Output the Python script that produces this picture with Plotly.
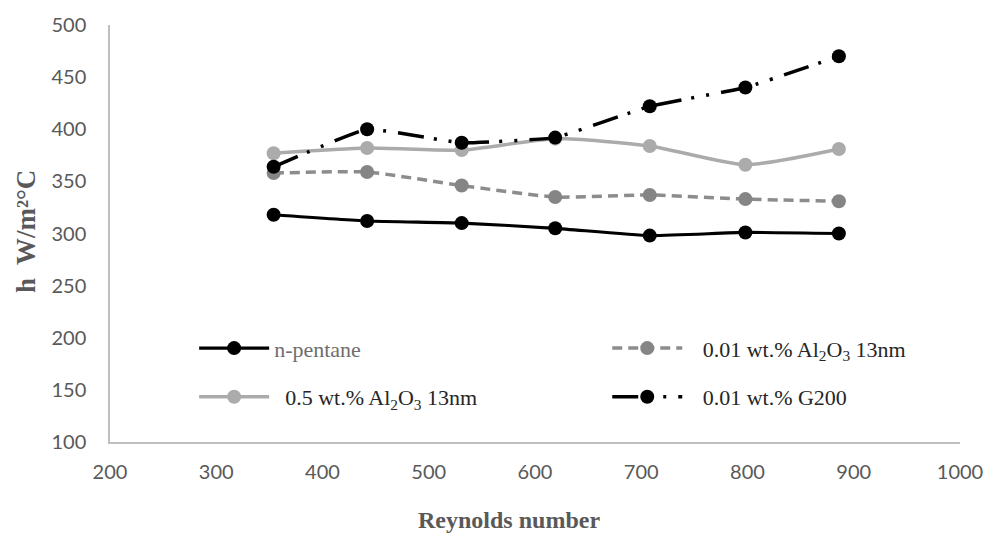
import plotly.graph_objects as go

reynolds = [354, 442, 531, 619, 708, 798, 886]
n_pentane = [318, 312, 310, 305, 298, 301, 300]
al2o3_001 = [358, 359, 346, 335, 337, 333, 331]
al2o3_05 = [377, 382, 380, 391, 384, 366, 381]
g200_001 = [364, 400, 387, 392, 422, 440, 470]

names = ["<span style='color:#6e6e6e'>n-pentane</span>",
         "\u00a0\u00a0\u20090.01 wt.% Al<sub>2</sub>O<sub>3</sub> 13nm",
         "\u00a0\u00a00.5 wt.% Al<sub>2</sub>O<sub>3</sub> 13nm",
         "\u00a0\u00a0\u20090.01 wt.% G200"]

x_ticks = [200, 300, 400, 500, 600, 700, 800, 900, 1000]
y_ticks = [100, 150, 200, 250, 300, 350, 400, 450, 500]

fig = go.Figure()

fig.add_trace(go.Scatter(
    x=reynolds, y=n_pentane, name=names[0], mode="lines+markers",
    line=dict(color="#000000", width=3.2, shape="spline", smoothing=0.5),
    marker=dict(color="#000000", size=14), legend="legend", legendgroup="a"))
fig.add_trace(go.Scatter(
    x=reynolds, y=al2o3_001, name=names[1], mode="lines+markers",
    line=dict(color="#8c8c8c", width=3.5, dash="10px,6px", shape="spline", smoothing=0.5),
    marker=dict(color="#858585", size=14), legend="legend2", legendgroup="b"))
fig.add_trace(go.Scatter(
    x=reynolds, y=al2o3_05, name=names[2], mode="lines+markers",
    line=dict(color="#ababab", width=3.5, shape="spline", smoothing=0.6),
    marker=dict(color="#ababab", size=14), legend="legend", legendgroup="c"))
fig.add_trace(go.Scatter(
    x=reynolds, y=g200_001, name=names[3], mode="lines+markers",
    line=dict(color="#000000", width=3.5, dash="26px,10px,3px,12px,3px,12px", shape="spline", smoothing=0.3),
    marker=dict(color="#000000", size=14), legend="legend2", legendgroup="d"))

legend_common = dict(
    font=dict(family="Liberation Serif, DejaVu Serif, serif", size=22, color="#262626"),
    bgcolor="rgba(0,0,0,0)", itemwidth=70, tracegroupgap=17,
    orientation="v", xanchor="left", yanchor="middle", traceorder="grouped",
)

tick_font = dict(family="Lato, Open Sans, sans-serif", size=20, color="#595959")
title_font = "Liberation Serif, DejaVu Serif, serif"

fig.update_layout(
    width=995, height=536,
    margin=dict(l=110, r=35, t=22, b=94),
    paper_bgcolor="white", plot_bgcolor="white",
    showlegend=True,
    legend=dict(x=0.099, y=0.166, **legend_common),
    legend2=dict(x=0.585, y=0.166, **legend_common),
    xaxis=dict(
        range=[200, 1000], tickvals=x_ticks, ticktext=[str(v) for v in x_ticks],
        showgrid=False, zeroline=False, showline=True, linecolor="#bfbfbf", linewidth=1.5,
        ticks="", ticklabelstandoff=11, tickfont=tick_font, ticklabeloverflow="allow",
    ),
    yaxis=dict(
        range=[100, 500], tickvals=y_ticks, ticktext=[str(v) for v in y_ticks],
        showgrid=False, zeroline=False, showline=True, linecolor="#bfbfbf", linewidth=1.5,
        ticks="", ticklabelstandoff=18, tickfont=tick_font, ticklabeloverflow="allow",
    ),
    annotations=[
        dict(text="<b>h  W/m²°C</b>", xref="paper", yref="paper", x=-0.098, y=0.505,
             xanchor="center", yanchor="middle", textangle=-90, showarrow=False,
             font=dict(family=title_font, size=27, color="#595959")),
        dict(text="<b>Reynolds number</b>", xref="paper", yref="paper", x=0.469, y=-0.186,
             xanchor="center", yanchor="middle", showarrow=False,
             font=dict(family=title_font, size=24, color="#595959")),
    ],
)

fig.write_html("out.html", config={"displayModeBar": False},
               post_script="document.body.style.margin='0';document.body.style.overflow='hidden';")
